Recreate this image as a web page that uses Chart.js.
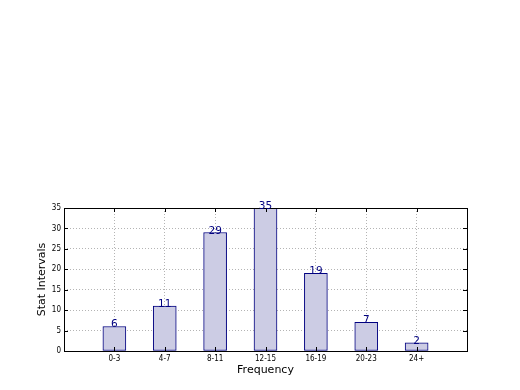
<!DOCTYPE html>
<html>
<head>
<meta charset="utf-8">
<script src="https://cdn.jsdelivr.net/npm/chart.js@4.4.1/dist/chart.umd.min.js"></script>
<style>
  html, body { margin: 0; padding: 0; background: #fff; }
  #wrap { width: 520px; height: 390px; }
</style>
</head>
<body>
<div id="wrap"><canvas id="chart" width="520" height="390"></canvas></div>
<script>
// Data
const categories = ['0-3', '4-7', '8-11', '12-15', '16-19', '20-23', '24+'];
const counts = [6, 11, 29, 35, 19, 7, 2];
const yTicks = [0, 5, 10, 15, 20, 25, 30, 35];

// padded with an empty slot at each end, like the original axis range
const labels = [''].concat(categories, ['']);
const values = [null].concat(counts, [null]);

const tickFont = { family: '"DejaVu Sans Condensed", "DejaVu Sans", sans-serif', size: 8 };
const titleFont = { family: '"DejaVu Sans", sans-serif', size: 11 };

// frame, inward tick marks and value labels on top of everything
const framePlugin = {
    id: 'frame',
    afterDraw(chart) {
        const ctx = chart.ctx;
        const a = chart.chartArea;
        const xs = chart.scales.x;
        const ys = chart.scales.y;
        ctx.save();
        ctx.strokeStyle = '#000';
        ctx.lineWidth = 1;

        // inward ticks
        ctx.beginPath();
        yTicks.forEach(v => {
            const y = Math.round(ys.getPixelForValue(v)) + 0.5;
            ctx.moveTo(a.left, y); ctx.lineTo(a.left + 4, y);
            ctx.moveTo(a.right, y); ctx.lineTo(a.right - 4, y);
        });
        categories.forEach((c, i) => {
            const x = Math.round(xs.getPixelForValue(i + 1)) + 0.5;
            ctx.moveTo(x, a.bottom); ctx.lineTo(x, a.bottom - 4);
            ctx.moveTo(x, a.top); ctx.lineTo(x, a.top + 4);
        });
        ctx.stroke();

        ctx.strokeRect(Math.round(a.left) + 0.5, Math.round(a.top) + 0.5,
            Math.round(a.right - a.left), Math.round(a.bottom - a.top));

        // value labels
        ctx.fillStyle = '#000080';
        ctx.font = '10.5px "DejaVu Sans", sans-serif';
        ctx.textAlign = 'center';
        ctx.textBaseline = 'alphabetic';
        const meta = chart.getDatasetMeta(0);
        meta.data.forEach((bar, i) => {
            if (values[i] == null) return;
            ctx.fillText(String(values[i]), bar.x, bar.y + 1);
        });
        ctx.restore();
    }
};

new Chart(document.getElementById('chart'), {
    type: 'bar',
    data: {
        labels: labels,
        datasets: [{
            data: values,
            backgroundColor: 'rgb(204, 204, 228)',
            borderColor: '#000080',
            borderWidth: 1,
            borderSkipped: false,
            barThickness: 23
        }]
    },
    options: {
        responsive: false,
        animation: false,
        devicePixelRatio: 1,
        layout: { padding: { top: 208, right: 53, left: 0, bottom: 0 } },
        plugins: {
            legend: { display: false },
            tooltip: { enabled: false }
        },
        scales: {
            x: {
                offset: false,
                z: 1,
                grid: {
                    offset: false,
                    color: '#b4b4b4',
                    drawTicks: false
                },
                border: { display: false, dash: [1, 2] },
                ticks: { color: '#000', font: tickFont, padding: 3, autoSkip: false, maxRotation: 0 },
                title: {
                    display: true,
                    text: 'Frequency',
                    color: '#000',
                    font: titleFont,
                    padding: { top: 0, bottom: 13 }
                },
                afterFit(scale) { scale.height = 39; }
            },
            y: {
                min: 0,
                max: 35,
                z: 1,
                grid: {
                    color: '#b4b4b4',
                    drawTicks: false
                },
                border: { display: false, dash: [1, 2] },
                ticks: { stepSize: 5, color: '#000', font: tickFont, padding: 3 },
                title: {
                    display: true,
                    text: 'Stat Intervals',
                    color: '#000',
                    font: titleFont,
                    padding: { top: 36, bottom: 0 }
                },
                afterFit(scale) { scale.width = 64; }
            }
        }
    },
    plugins: [framePlugin]
});
</script>
</body>
</html>
